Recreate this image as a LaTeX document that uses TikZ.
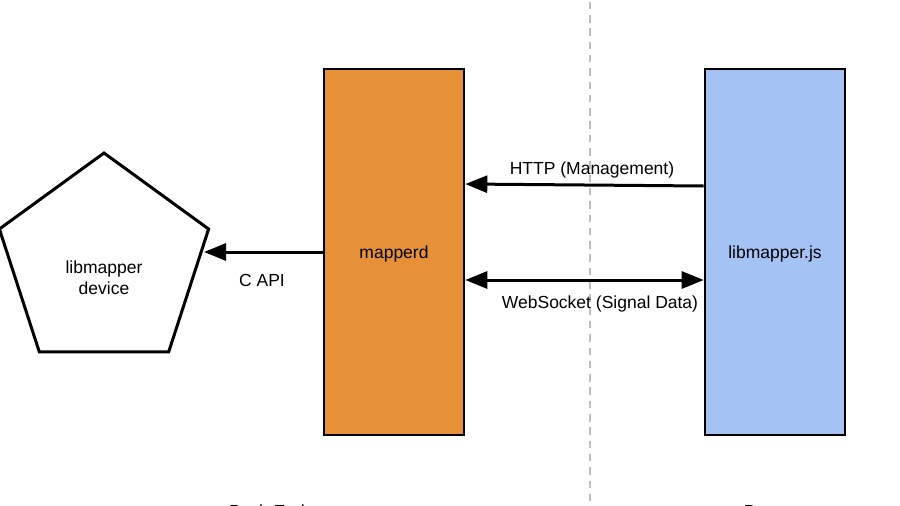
\documentclass[tikz,border=0pt]{standalone}
\usepackage{fontspec}
\setmainfont{Liberation Sans}
\usetikzlibrary{arrows.meta,shapes.geometric}
\definecolor{orangefill}{HTML}{E69138}
\definecolor{bluefill}{HTML}{A4C2F4}
\definecolor{dashgray}{HTML}{BDBDBD}
\begin{document}
\begin{tikzpicture}[x=1pt,y=-1pt,
  every node/.style={font=\fontsize{17.5}{20.5}\selectfont},
  column/.style={draw=black, line width=2.6pt, minimum width=140pt, minimum height=366pt, inner sep=0pt, text height=13pt, text depth=0pt},
  arr/.style={line width=3pt, -{Triangle[length=22pt,width=17pt]}},
  biarr/.style={line width=3pt, {Triangle[length=22pt,width=17pt]}-{Triangle[length=22pt,width=17pt]}},
  lbl/.style={inner sep=0pt, anchor=base}]
\useasboundingbox (0,0) rectangle (900,506);
\clip (0,0) rectangle (900,506);
% divider
\coordinate (dtop) at (590,1.7);
\coordinate (dbot) at (590,506);
\draw[dashgray, line width=1.8pt, dash pattern=on 7.5pt off 5.8pt] (dtop) -- (dbot);
% columns
\node[column, fill=orangefill] (map) at (394,252) {mapperd};
\node[column, fill=bluefill] (lib) at (775,252) {libmapper.js};
% pentagon
\node[regular polygon, regular polygon sides=5, draw=black, line width=3pt, minimum size=220pt, inner sep=0pt] (dev) at (104,263) {};
\node[inner sep=0pt, align=center] (devtxt) at (104,277.5) {libmapper\\device};
% connectors
\coordinate (devtip) at (204,252);
\draw[arr] (map.west) -- (devtip);
\node[lbl] (capi) at (262,286.5) {C API};
\draw[arr] ([yshift=66pt]lib.west) -- ([yshift=68pt]map.east);
\node[lbl] (http) at (592,174) {HTTP (Management)};
\draw[biarr] ([yshift=-28pt]map.east) -- ([yshift=-28pt]lib.west);
\node[lbl] (ws) at (600,308) {WebSocket (Signal Data)};
% bottom captions (cut off)
\node[lbl] (backend) at (267,517) {Back-End};
\node[lbl] (browser) at (776,517) {Browser};
\end{tikzpicture}
\end{document}
